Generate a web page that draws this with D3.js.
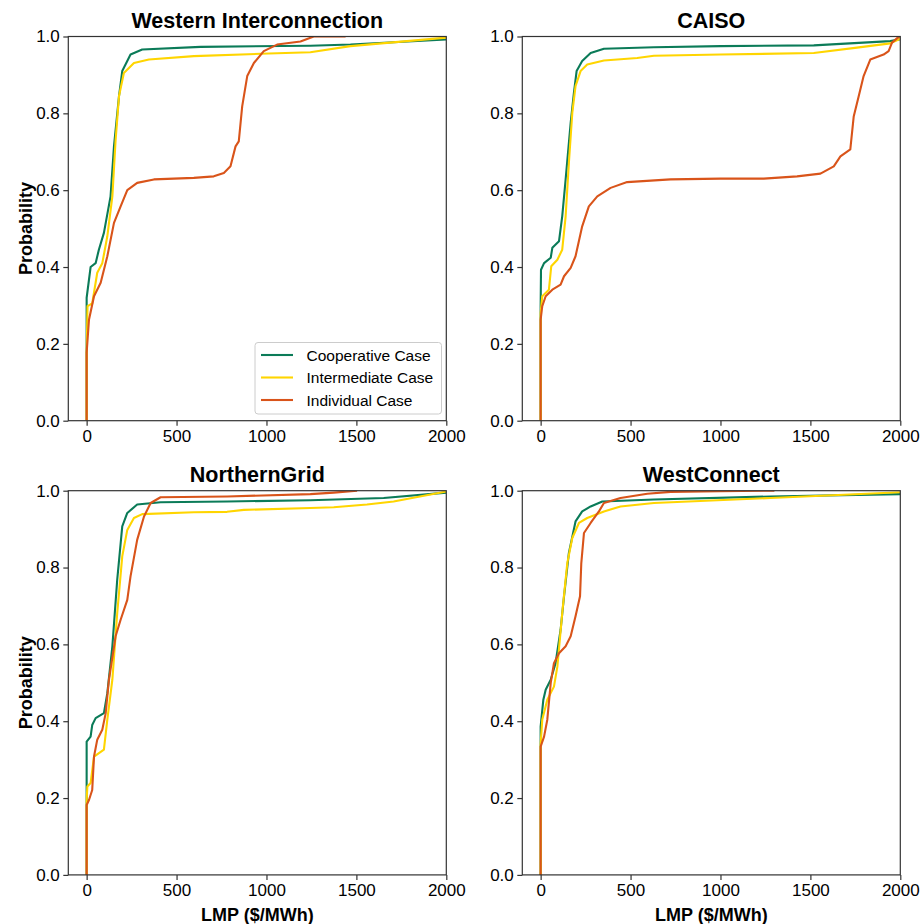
<!DOCTYPE html>
<html><head><meta charset="utf-8">
<script src="https://cdn.jsdelivr.net/npm/d3@7"></script>
<style>body{margin:0;background:#fff;}svg{display:block;font-family:"Liberation Sans",Arial,sans-serif;}</style>
</head><body><svg id="c" width="922" height="924"></svg>
<script>
const panelTitles = ["Western Interconnection","CAISO","NorthernGrid","WestConnect"];
const caseNames = ["Cooperative Case","Intermediate Case","Individual Case"];
const caseColors = ["#0b7b58","#ffd500","#d9541a"];
const xTicks = [0,500,1000,1500,2000];
const yTicks = [0,0.2,0.4,0.6,0.8,1.0];

// [LMP, probability]
const wiCoop = [[0,0],[0,0.22],[0,0.32],[22,0.40],[50,0.41],[68,0.445],[96,0.489],[133,0.584],[152,0.714],[180,0.845],[198,0.91],[244,0.953],[309,0.966],[633,0.973],[1244,0.976],[1467,0.979],[2000,0.992]];
const wiInter = [[0,0],[0,0.177],[5,0.298],[31,0.305],[59,0.385],[87,0.41],[115,0.48],[143,0.584],[161,0.73],[180,0.845],[207,0.905],[263,0.931],[346,0.94],[596,0.949],[967,0.955],[1244,0.959],[1467,0.975],[2000,0.997]];
const wiIndiv = [[0,0],[0,0.177],[13,0.263],[41,0.324],[78,0.359],[115,0.428],[152,0.515],[189,0.558],[226,0.60],[281,0.619],[374,0.628],[596,0.632],[707,0.636],[763,0.645],[800,0.662],[828,0.714],[846,0.727],[865,0.818],[893,0.897],[930,0.931],[985,0.962],[1059,0.979],[1189,0.987],[1263,1.0],[1440,1.0]];

const caCoop = [[0,0],[0,0.298],[2,0.393],[19,0.41],[56,0.424],[65,0.45],[102,0.467],[120,0.532],[139,0.628],[167,0.775],[185,0.853],[200,0.91],[231,0.936],[278,0.957],[352,0.968],[630,0.972],[1000,0.975],[1519,0.977],[1944,0.988],[2000,0.993]];
const caInter = [[0,0],[0,0.28],[9,0.324],[46,0.341],[59,0.402],[93,0.419],[120,0.445],[139,0.532],[157,0.671],[176,0.801],[194,0.871],[222,0.91],[259,0.927],[352,0.9375],[537,0.944],[630,0.95],[1000,0.953],[1519,0.957],[1759,0.971],[1944,0.982],[2000,0.994]];
const caIndiv = [[0,0],[0,0.263],[9,0.298],[28,0.324],[65,0.341],[111,0.354],[130,0.376],[167,0.398],[194,0.428],[231,0.506],[268,0.558],[315,0.584],[389,0.606],[481,0.621],[722,0.628],[1000,0.630],[1241,0.63],[1426,0.636],[1556,0.643],[1630,0.662],[1667,0.688],[1722,0.706],[1741,0.792],[1769,0.845],[1796,0.897],[1833,0.94],[1907,0.953],[1935,0.962],[1954,0.984],[1991,0.999],[2000,1.0]];

const ngCoop = [[0,0],[0,0.23],[0,0.347],[22,0.36],[31,0.39],[50,0.408],[96,0.421],[115,0.473],[143,0.595],[170,0.768],[198,0.907],[226,0.942],[281,0.964],[411,0.970],[781,0.972],[1244,0.975],[1652,0.981],[2000,0.995]];
const ngInter = [[0,0],[0,0.195],[4,0.23],[22,0.239],[41,0.308],[96,0.326],[115,0.404],[143,0.508],[170,0.681],[198,0.829],[226,0.898],[263,0.929],[309,0.939],[596,0.944],[781,0.945],[874,0.95],[1244,0.955],[1374,0.957],[1559,0.964],[1707,0.972],[2000,0.998]];
const ngIndiv = [[0,0],[0,0.182],[13,0.195],[31,0.221],[41,0.308],[59,0.352],[87,0.378],[106,0.421],[124,0.508],[161,0.621],[189,0.664],[226,0.716],[244,0.777],[281,0.872],[319,0.933],[356,0.968],[411,0.983],[781,0.985],[1244,0.991],[1374,0.995],[1504,1.0]];

const wcCoop = [[0,0],[0,0.334],[0,0.386],[15,0.456],[28,0.482],[56,0.508],[83,0.551],[111,0.638],[130,0.725],[157,0.838],[194,0.92],[231,0.946],[278,0.959],[343,0.972],[630,0.977],[1278,0.985],[2000,0.991]];
const wcInter = [[0,0],[0,0.34],[9,0.404],[37,0.456],[74,0.49],[93,0.542],[120,0.681],[148,0.811],[176,0.877],[213,0.916],[259,0.929],[352,0.946],[444,0.959],[630,0.968],[1278,0.981],[2000,0.996]];
const wcIndiv = [[0,0],[0,0.334],[19,0.36],[37,0.404],[56,0.499],[74,0.551],[102,0.577],[139,0.595],[167,0.621],[194,0.673],[219,0.725],[226,0.811],[241,0.89],[278,0.916],[324,0.946],[352,0.968],[444,0.981],[593,0.992],[722,0.997],[1000,0.999],[1300,1.0]];

const panelSeries = [[wiCoop,wiInter,wiIndiv],[caCoop,caInter,caIndiv],[ngCoop,ngInter,ngIndiv],[wcCoop,wcInter,wcIndiv]];

const svg = d3.select("#c");
const W = 378, H = 384.2;
const origins = [[68.3,36.5],[522.3,36.5],[68.3,490.7],[522.3,490.7]];
const axisColor = "#333";

panelTitles.forEach((title, i) => {
  const [ox, oy] = origins[i];
  const g = svg.append("g").attr("transform", `translate(${ox},${oy})`);
  const x = d3.scaleLinear().domain([-102, 2000]).range([0, W]);
  const y = d3.scaleLinear().domain([0, 1]).range([H, 0]);

  g.append("clipPath").attr("id", "clip" + i).append("rect").attr("width", W).attr("height", H);

  const line = d3.line().x(d => x(d[0])).y(d => y(d[1]));
  const lg = g.append("g").attr("clip-path", `url(#clip${i})`);
  panelSeries[i].forEach((s, k) => {
    lg.append("path").attr("d", line(s)).attr("fill", "none")
      .attr("stroke", caseColors[k]).attr("stroke-width", 2.1).attr("stroke-linejoin", "round");
  });

  // spines
  g.append("rect").attr("width", W).attr("height", H).attr("fill", "none")
    .attr("stroke", axisColor).attr("stroke-width", 1.2);

  const xa = g.append("g").attr("transform", `translate(0,${H})`)
    .call(d3.axisBottom(x).tickValues(xTicks).tickFormat(d3.format("d")).tickSize(5).tickPadding(4));
  const ya = g.append("g")
    .call(d3.axisLeft(y).tickValues(yTicks).tickFormat(d3.format(".1f")).tickSize(5).tickPadding(3.5));
  [xa, ya].forEach(a => {
    a.select(".domain").remove();
    a.selectAll(".tick line").attr("stroke", axisColor).attr("stroke-width", 1.2);
    a.selectAll(".tick text").attr("fill", "#000").style("font-size", "17px")
      .style("font-family", '"Liberation Sans",Arial,sans-serif');
  });

  g.append("text").attr("x", W / 2).attr("y", -8.5).attr("text-anchor", "middle")
    .style("font-size", "21.5px").style("font-weight", "bold").text(title);

  if (i % 2 === 0) {
    g.append("text").attr("transform", `translate(${-36.5},${H / 2}) rotate(-90)`)
      .attr("text-anchor", "middle").style("font-size", "18px").style("font-weight", "bold")
      .text("Probability");
  }
  if (i >= 2) {
    g.append("text").attr("x", W / 2).attr("y", H + 46).attr("text-anchor", "middle")
      .style("font-size", "18px").style("font-weight", "bold").text("LMP ($/MWh)");
  }

  if (i === 0) {
    const leg = g.append("g").attr("transform", `translate(${255 - ox},${342.5 - oy})`);
    leg.append("rect").attr("width", 186.5).attr("height", 71.5).attr("rx", 3)
      .attr("fill", "#fff").attr("fill-opacity", 0.8).attr("stroke", "#ccc").attr("stroke-width", 1);
    caseNames.forEach((n, k) => {
      const yy = 12.5 + k * 22.5;
      leg.append("line").attr("x1", 6).attr("x2", 38).attr("y1", yy).attr("y2", yy)
        .attr("stroke", caseColors[k]).attr("stroke-width", 2.1);
      leg.append("text").attr("x", 51.5).attr("y", yy + 5.5).style("font-size", "15.5px").text(n);
    });
  }
});
</script></body></html>
